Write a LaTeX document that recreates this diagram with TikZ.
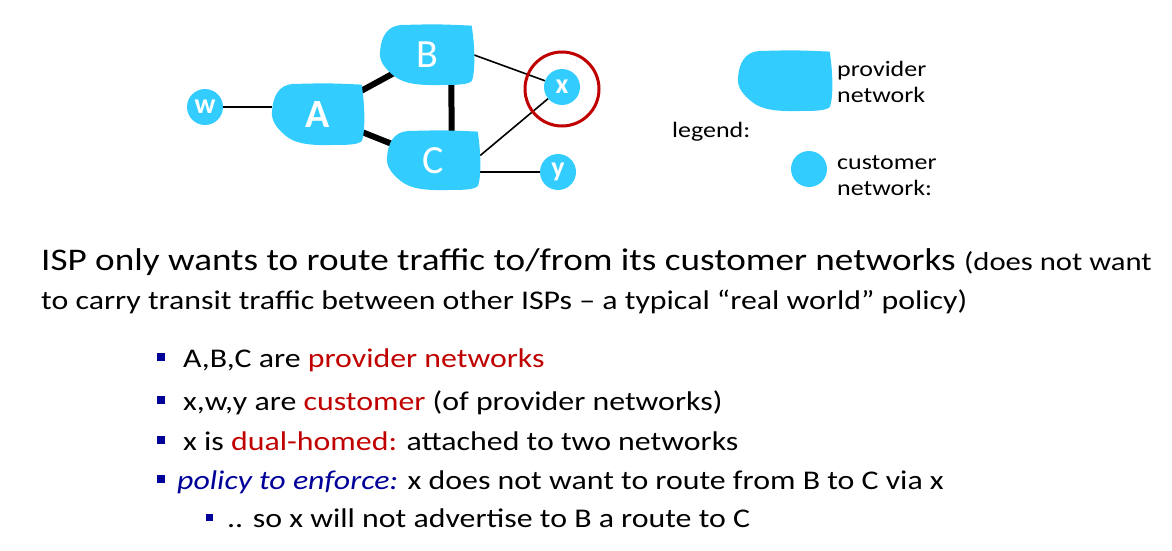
\documentclass[tikz,border=0pt]{standalone}
\usepackage{fontspec}
\setmainfont{Carlito}[FakeStretch=1.18]
\newfontfamily\labelfont{Carlito}
\usetikzlibrary{calc}
\definecolor{netblue}{RGB}{51,204,255}
\definecolor{slidered}{RGB}{192,0,0}
\definecolor{navy}{RGB}{0,0,153}
\pgfdeclarelayer{edges}
\pgfdeclarelayer{blobs}
\pgfsetlayers{edges,blobs,main}
\tikzset{
  % irregular "cloud" outline of a provider network, unit half-size
  blob/.pic={
    \fill[netblue] (-0.55,1) .. controls (0.2,1.03) .. (0.95,0.98)
      .. controls (1.02,0.3) and (1.03,-0.5) .. (0.96,-0.85)
      .. controls (0.9,-1) and (0.6,-1) .. (0.3,-1)
      .. controls (-0.2,-1.02) and (-0.5,-0.95) .. (-0.7,-0.7)
      .. controls (-0.9,-0.45) and (-1.02,-0.2) .. (-1,0.1)
      .. controls (-0.98,0.6) and (-0.85,0.97) .. (-0.55,1) -- cycle;
  },
  provider/.style={rectangle, inner sep=0pt, minimum width=92pt, minimum height=60pt,
    text=white, font=\labelfont\fontsize{40}{40}\selectfont},
  customer/.style={circle, fill=netblue, minimum size=36pt, inner sep=0pt,
    text=white, font=\labelfont\bfseries\fontsize{28}{28}\selectfont},
  thicklink/.style={line width=6pt},
  thinlink/.style={line width=1.6pt},
  bodytext/.style={anchor=base west, inner sep=0pt},
  bulletsq/.style={fill=navy, minimum size=8pt, inner sep=0pt},
  legendtext/.style={bodytext, font=\fontsize{22}{26}\selectfont},
  bullettext/.style={bodytext, font=\fontsize{27}{31}\selectfont},
}
\begin{document}
\begin{tikzpicture}[x=1pt, y=1pt]
\useasboundingbox (0,0) rectangle (1172,-551);

% provider networks
\node[provider] (A) at (318,-114.5) {\bfseries A};
\node[provider, minimum width=94pt] (B) at (427,-55) {B};
\node[provider, minimum width=93pt, minimum height=59pt] (C) at (433.5,-160.5) {C};
\begin{pgfonlayer}{blobs}
  \pic[xscale=46, yscale=30.5] at (A.center) {blob};
  \pic[xscale=47, yscale=30] at (B.center) {blob};
  \pic[xscale=46.5, yscale=29.5] at (C.center) {blob};
\end{pgfonlayer}

% customer networks
\node[customer] (w) at (205,-107) {w};
\node[customer] (x) at (562,-87) {x};
\node[customer] (y) at (558,-172) {y};
\node[circle, draw=slidered, line width=3pt, minimum size=74pt] (ring) at (562,-89) {};

% links
\begin{pgfonlayer}{edges}
  \draw[thicklink] (A.center) -- (B.center);
  \draw[thicklink] (A.center) -- (C.center);
  \draw[thicklink] ([xshift=24pt]B.center) -- ([xshift=18.5pt]C.center);
  \draw[thinlink] (w) -- (w -| A.west);
  \draw[thinlink] (B.east) -- (x);
  \draw[thinlink] ([yshift=5pt]C.east) -- (x);
  \draw[thinlink] (C.east |- y) -- (y);
\end{pgfonlayer}

% legend
\node[provider, minimum width=94pt] (legprov) at (785,-81) {};
\begin{pgfonlayer}{blobs}
  \pic[xscale=47, yscale=30] at (legprov.center) {blob};
\end{pgfonlayer}
\node[legendtext] (lp1) at (837,-76) {provider};
\node[legendtext] (lp2) at (837,-102) {network};
\node[legendtext] (lg) at (672,-137) {legend:};
\node[customer] (legcust) at (809,-169) {};
\node[legendtext] (lc1) at (837,-169) {customer};
\node[legendtext] (lc2) at (837,-195) {network:};

% text
\node[bodytext, font=\fontsize{31.5}{36}\selectfont] (l1) at (41,-270)
  {ISP only wants to route traffic to/from its customer networks {\fontsize{26}{30}\selectfont (does not want}};
\node[bodytext, font=\fontsize{27}{31}\selectfont] (l2) at (41,-309)
  {to carry transit traffic between other ISPs – a typical “real world” policy)};

\node[bulletsq] (b1) at (161,-356.5) {};
\node[bullettext] (t1) at (183,-367) {A,B,C are \textcolor{slidered}{provider networks}};
\node[bulletsq] (b2) at (161,-399.5) {};
\node[bullettext] (t2) at (183,-410) {x,w,y are \textcolor{slidered}{customer} (of provider networks)};
\node[bulletsq] (b3) at (161,-439.5) {};
\node[bullettext] (t3) at (183,-450) {x is \textcolor{slidered}{dual-homed:} attached to two networks};
\node[bulletsq] (b4) at (161,-478.5) {};
\node[bullettext] (t4) at (177,-489) {\textcolor{navy}{\itshape policy to enforce:} x does not want to route from B to C via x};
\node[bulletsq, minimum size=7pt] (b5) at (209,-517) {};
\node[bullettext] (t5) at (227,-527) {.. so x will not advertise to B a route to C};
\end{tikzpicture}
\end{document}
